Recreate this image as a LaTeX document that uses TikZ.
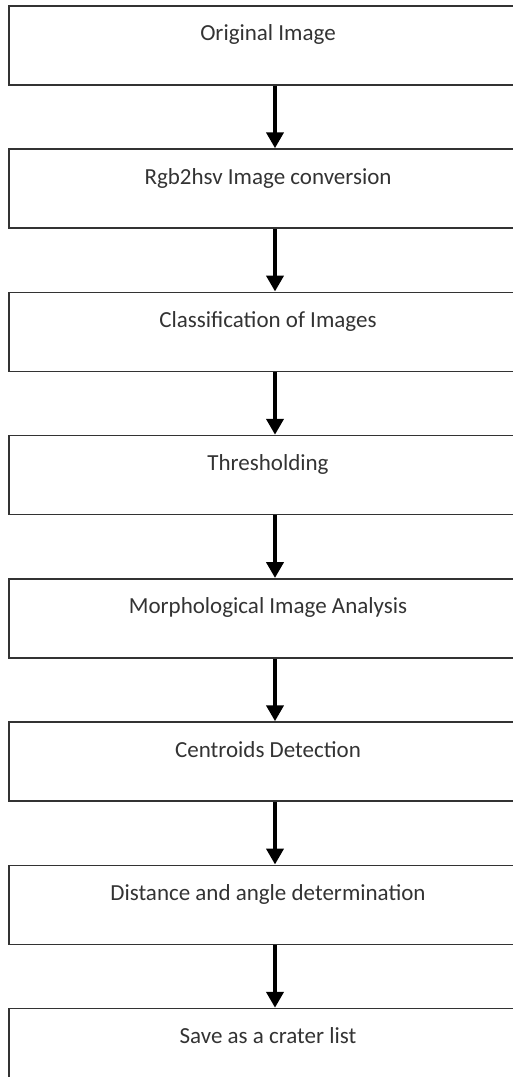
\documentclass[tikz,border=0pt]{standalone}
\usepackage{fontspec}
\setmainfont{Carlito}
\usetikzlibrary{positioning}
\usetikzlibrary{arrows.meta}

\begin{document}
\begin{tikzpicture}[x=1pt, y=-1pt, ->, >={Triangle[width=17pt,length=16pt]}, line width=4.5pt, node distance=62.75pt]
		\tikzstyle{block}=[draw=black!80, line width=1.5pt, rectangle, fill=none, minimum width=518pt, minimum height=79pt, inner ysep=0pt, text height=35pt, text depth=44pt, align=center, text=black!80, font=\fontsize{23}{27}\selectfont]
		\useasboundingbox (0,0) rectangle (513,1077);
		\clip (0,0) rectangle (513,1077);
		
		\node[block, anchor=north] (img) at (268,5) {Original Image};
		\node[block, below=of img] (hsv) {Rgb2hsv Image conversion};
		\node[block, below=of hsv] (cls) {Classification of Images};
		\node[block, below=of cls] (thr) {Thresholding};
		\node[block, below=of thr] (morph) {Morphological Image Analysis};
		\node[block, below=of morph] (cent) {Centroids Detection};
		\node[block, below=of cent] (dist) {Distance and angle determination};
		\node[block, below=of dist] (save) {Save as a crater list};
		
		\path ([xshift=7pt]img.south) edge ([xshift=7pt]hsv.north);
		\path ([xshift=7pt]hsv.south) edge ([xshift=7pt]cls.north);
		\path ([xshift=7pt]cls.south) edge ([xshift=7pt]thr.north);
		\path ([xshift=7pt]thr.south) edge ([xshift=7pt]morph.north);
		\path ([xshift=7pt]morph.south) edge ([xshift=7pt]cent.north);
		\path ([xshift=7pt]cent.south) edge ([xshift=7pt]dist.north);
		\path ([xshift=7pt]dist.south) edge ([xshift=7pt]save.north);
		\end{tikzpicture}
\end{document}
